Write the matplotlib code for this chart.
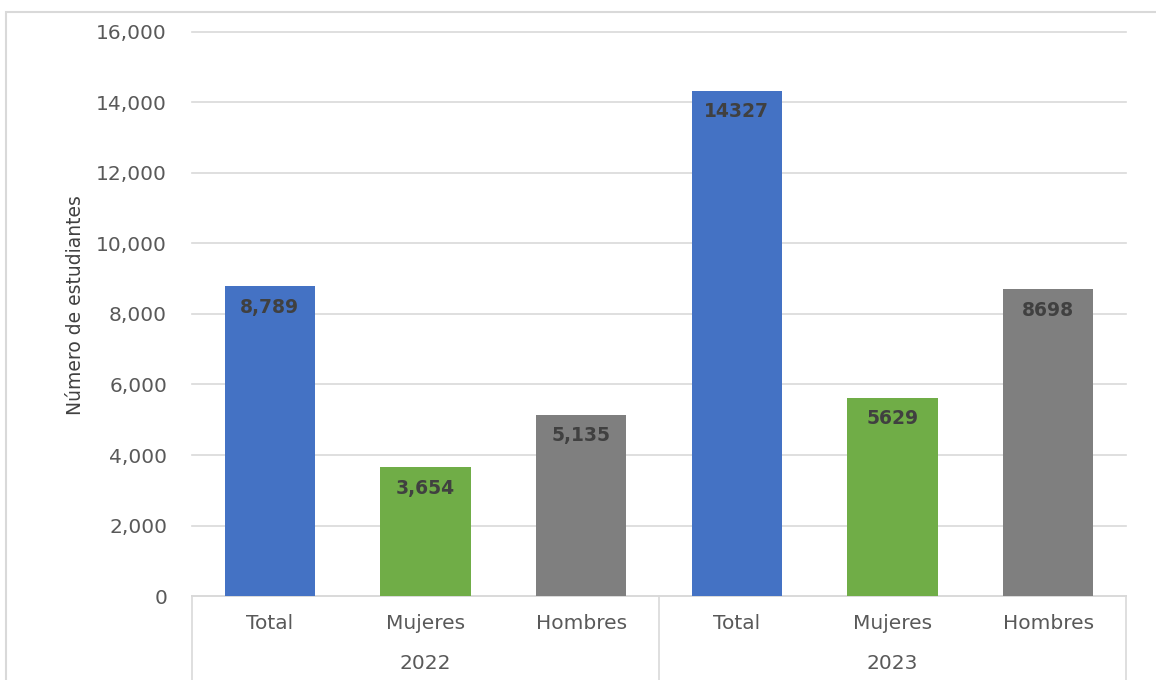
import matplotlib.pyplot as plt
import matplotlib.patches as mpatches
from matplotlib.ticker import FuncFormatter
import numpy as np

# students per year, split by sex
years = ['2022', '2023']
groups = ['Total', 'Mujeres', 'Hombres']
values_2022 = [8789, 3654, 5135]
values_2023 = [14327, 5629, 8698]
labels_2022 = ['8,789', '3,654', '5,135']
labels_2023 = ['14327', '5629', '8698']

colors = ['#4472C4', '#70AD47', '#7F7F7F']
text_color = '#595959'
grid_color = '#D9D9D9'

plt.rcParams['font.family'] = ['DejaVu Sans']

fig = plt.figure(figsize=(11.56, 6.8), dpi=100)
ax = fig.add_axes([0.1661, 0.1235, 0.974 - 0.1661, 0.953 - 0.1235])

values = values_2022 + values_2023
labels = labels_2022 + labels_2023
x = np.arange(len(values))
bars = ax.bar(x, values, width=0.58, color=colors * 2, zorder=3)

for rect, lab in zip(bars, labels):
    ax.annotate(lab, (rect.get_x() + rect.get_width() / 2, rect.get_height()),
                xytext=(0, -15), textcoords='offset points',
                ha='center', va='center', fontsize=13.5, fontweight='bold',
                color='#404040', zorder=4)

ax.set_xlim(-0.5, len(values) - 0.5)
ax.set_ylim(0, 16000)
ax.set_yticks(np.arange(0, 16001, 2000))
ax.yaxis.set_major_formatter(FuncFormatter(lambda v, p: f'{int(v):,}'))
ax.grid(axis='y', color=grid_color, linewidth=1.2, zorder=0)
for gl in ax.get_ygridlines():
    gl.set_clip_on(False)
ax.tick_params(axis='y', length=0, pad=18, labelsize=14.5, labelcolor=text_color)
ax.tick_params(axis='x', length=0, bottom=False, labelbottom=False)
for side in ['top', 'right', 'left']:
    ax.spines[side].set_visible(False)
ax.spines['bottom'].set_color(grid_color)
ax.spines['bottom'].set_linewidth(1.2)

ax.set_ylabel('Número de estudiantes', fontsize=13.5,
              family=['Liberation Sans Narrow', 'DejaVu Sans'],
              color='#404040')
ax.yaxis.set_label_coords(-0.115, 0.516)

# two-level category axis
trans = ax.get_xaxis_transform()
fig_bottom = -0.1235 / (0.953 - 0.1235)
for xb in [-0.5, 2.5, 5.5]:
    ax.plot([xb, xb], [0, fig_bottom], transform=trans, color=grid_color,
            linewidth=1.2, clip_on=False)
for i in range(len(values)):
    ax.text(i, -0.048, groups[i % 3], transform=trans, ha='center', va='center',
            fontsize=14.5, color=text_color)
for j, yr in enumerate(years):
    ax.text(3 * j + 1, -0.119, yr, transform=trans, ha='center', va='center',
            fontsize=14.5, color=text_color)

# chart frame
fig.patches.append(mpatches.Rectangle((0.0052, -0.02), 1.1, 0.9824 + 0.02,
                                      transform=fig.transFigure, fill=False,
                                      edgecolor=grid_color, linewidth=1.5))

fig.savefig('out.png', dpi=100)
